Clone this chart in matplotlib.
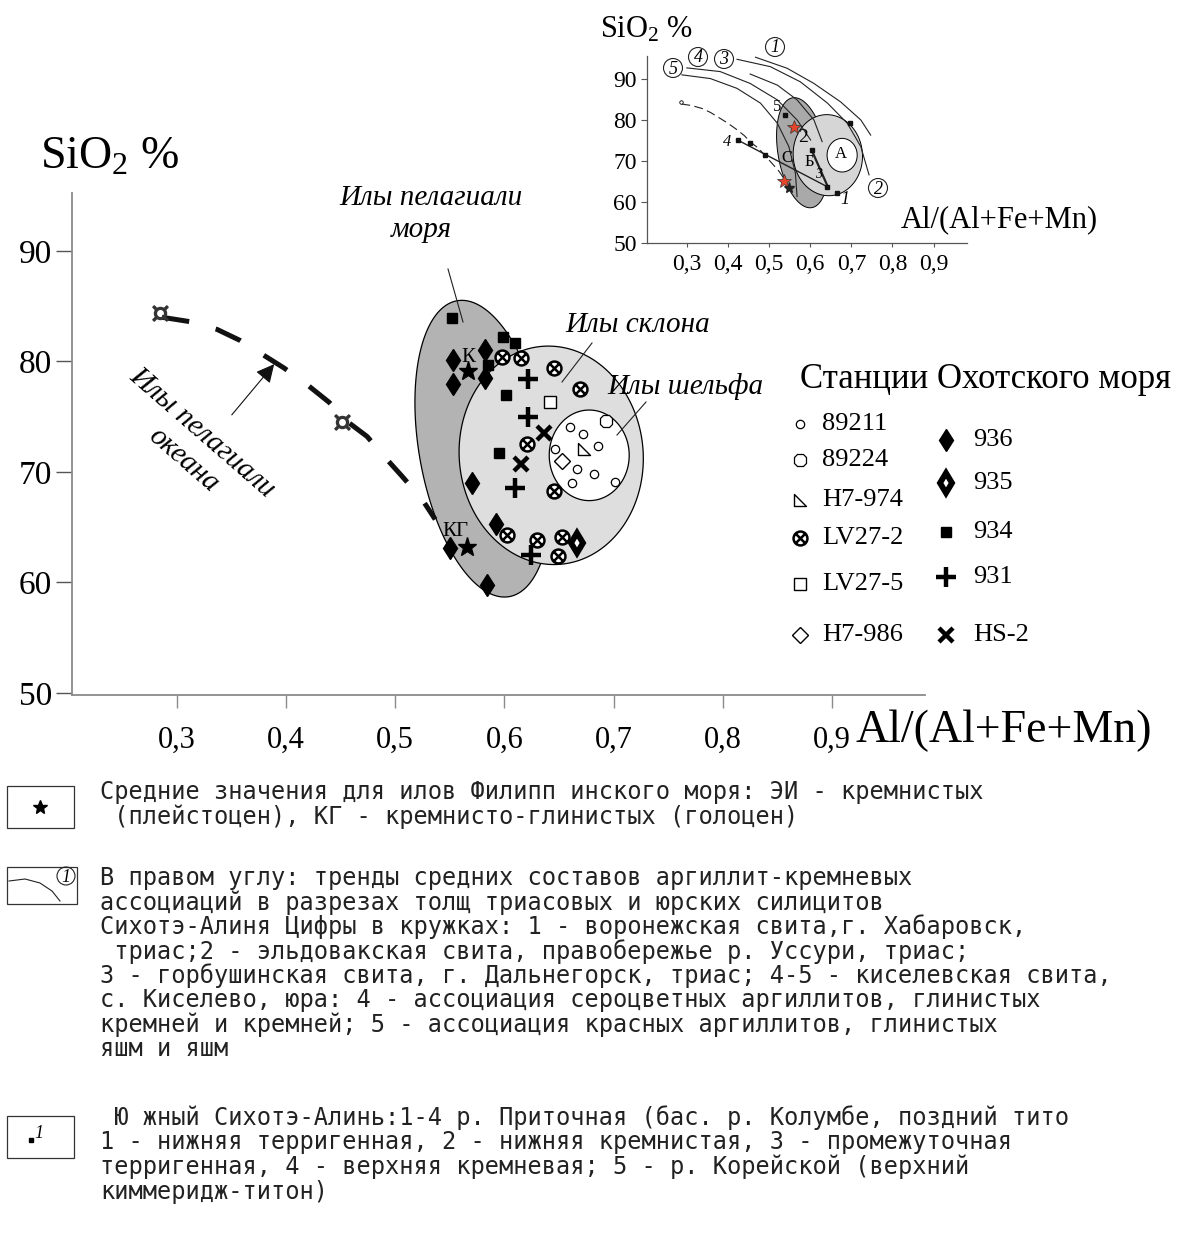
import numpy as np
import matplotlib
matplotlib.use('Agg')
import matplotlib.pyplot as plt
from matplotlib.patches import Polygon, Rectangle, Ellipse
from matplotlib.path import Path

plt.rcParams['mathtext.fontset'] = 'custom'
plt.rcParams['mathtext.rm'] = 'Liberation Serif'
plt.rcParams['mathtext.it'] = 'Liberation Serif:italic'

SERIF = 'Liberation Serif'
MONO = 'DejaVu Sans Mono'
W, H = 1189, 1238

# ---------------- data: main diagram (x = Al/(Al+Fe+Mn), y = SiO2 %)
st_89211_x = [0.660, 0.672, 0.646, 0.686, 0.666, 0.682, 0.662, 0.701]
st_89211_y = [74.1, 73.4, 72.1, 72.3, 70.3, 69.8, 69.0, 69.1]
st_89224_x = [0.693]
st_89224_y = [74.6]
st_h7974_x = [0.673]
st_h7974_y = [72.1]
st_lv272_x = [0.598, 0.615, 0.645, 0.669, 0.621, 0.645, 0.602, 0.630, 0.653, 0.649]
st_lv272_y = [80.4, 80.3, 79.4, 77.5, 72.5, 68.3, 64.3, 63.8, 64.1, 62.4]
st_lv275_x = [0.642]
st_lv275_y = [76.3]
st_h7986_x = [0.653]
st_h7986_y = [71.0]
st_936_x = [0.553, 0.582, 0.553, 0.582, 0.570, 0.592, 0.550, 0.584]
st_936_y = [80.1, 81.0, 78.0, 78.5, 69.0, 65.3, 63.1, 59.8]
st_935_x = [0.666]
st_935_y = [63.6]
st_934_x = [0.552, 0.599, 0.610, 0.585, 0.601, 0.595]
st_934_y = [83.9, 82.2, 81.7, 79.7, 77.0, 71.7]
st_931_x = [0.622, 0.622, 0.610, 0.624]
st_931_y = [78.4, 75.0, 68.5, 62.5]
st_hs2_x = [0.636, 0.615]
st_hs2_y = [73.5, 70.7]

# Philippine sea averages (stars)
phil_x = [0.567, 0.566]
phil_y = [79.1, 63.2]

# pelagic ocean trend (dashed) and its end samples
ocean_x = [0.2865, 0.3122, 0.3369, 0.3580, 0.3790, 0.3983, 0.4193, 0.4395,
           0.4569, 0.4743, 0.4908, 0.5063, 0.5247, 0.5366]
ocean_y = [84.0, 83.6, 82.9, 81.9, 80.6, 79.4, 77.9, 76.3,
           74.5, 73.2, 71.3, 69.6, 67.5, 65.7]
ocean_pts_x = [0.285, 0.451]
ocean_pts_y = [84.4, 74.5]

# fields: centre x, centre y, half width (x units), half height (y units), tilt
field_cx = [0.5805, 0.6428, 0.6776]
field_cy = [72.1, 71.5, 71.5]
field_hw = [0.0586, 0.0842, 0.0366]
field_hh = [13.6, 9.9, 4.1]
field_tilt = [10, 5, 0]

# ---------------- data: inset (trends of Sikhote-Alin sections)
trend1_x = [0.467, 0.544, 0.609, 0.674, 0.723, 0.747]
trend1_y = [95.4, 92.7, 89.0, 84.5, 80.1, 76.4]
trend2_x = [0.422, 0.503, 0.576, 0.642, 0.690, 0.723, 0.743]
trend2_y = [94.9, 93.1, 89.4, 84.2, 79.3, 73.6, 66.7]
trend3_x = [0.454, 0.520, 0.568, 0.609, 0.629]
trend3_y = [91.3, 88.6, 85.0, 80.1, 74.8]
trend4_x = [0.300, 0.381, 0.454, 0.520, 0.568, 0.601]
trend4_y = [92.8, 91.9, 89.0, 85.0, 80.1, 75.2]
trend5_x = [0.288, 0.357, 0.422, 0.479, 0.520, 0.548, 0.564, 0.568]
trend5_y = [91.1, 90.2, 87.8, 84.2, 79.3, 73.6, 67.1, 61.4]
south_x = [0.4235, 0.4527, 0.4910, 0.5398, 0.6032, 0.6415, 0.6659, 0.6966]
south_y = [75.2, 74.5, 71.5, 81.3, 72.8, 63.8, 62.3, 79.3]
sec4_x = [0.4235, 0.6415]
sec4_y = [75.2, 63.8]
sec3_x = [0.6032, 0.6415]
sec3_y = [72.8, 64.1]
red_star_x = [0.560, 0.537]
red_star_y = [78.4, 65.3]
blk_star_x = [0.548]
blk_star_y = [63.4]

x_ticks = [0.3, 0.4, 0.5, 0.6, 0.7, 0.8, 0.9]
x_tick_labels = ['0,3', '0,4', '0,5', '0,6', '0,7', '0,8', '0,9']
y_ticks = [50, 60, 70, 80, 90]

# ---------------- marker styles
tri = Path([(-1, 1), (-1, -1), (1, -1), (-1, 1)],
           [Path.MOVETO, Path.LINETO, Path.LINETO, Path.CLOSEPOLY])
otimes = Path.make_compound_path(
    Path.unit_circle(),
    Path([(-0.6, -0.6), (0.6, 0.6), (-0.6, 0.6), (0.6, -0.6)],
         [Path.MOVETO, Path.LINETO, Path.MOVETO, Path.LINETO]))
open_kw = dict(mfc='white', mec='k')
styles = {
    '89211': dict(marker='o', ms=6, mew=0.9, **open_kw),
    '89224': dict(marker='8', ms=9.5, mew=0.9, **open_kw),
    'H7-974': dict(marker=tri, ms=9, mew=1.0, **open_kw),
    'LV27-2': dict(marker=otimes, ms=10, mew=1.8, **open_kw),
    'LV27-5': dict(marker='s', ms=8, mew=1.0, **open_kw),
    'H7-986': dict(marker='D', ms=8.5, mew=1.0, **open_kw),
    '936': dict(marker='d', ms=11.5, color='k'),
    '935': dict(marker='d', ms=10, mfc='white', mec='k', mew=4.2),
    '934': dict(marker='s', ms=7.5, color='k'),
    '931': dict(marker='+', ms=14, mew=3.2, color='k'),
    'HS-2': dict(marker='x', ms=9.5, mew=3.2, color='k'),
}
stations = [('89211', st_89211_x, st_89211_y), ('89224', st_89224_x, st_89224_y),
            ('H7-974', st_h7974_x, st_h7974_y), ('LV27-2', st_lv272_x, st_lv272_y),
            ('LV27-5', st_lv275_x, st_lv275_y), ('H7-986', st_h7986_x, st_h7986_y),
            ('936', st_936_x, st_936_y), ('935', st_935_x, st_935_y),
            ('934', st_934_x, st_934_y), ('931', st_931_x, st_931_y),
            ('HS-2', st_hs2_x, st_hs2_y)]


def ellipse_poly(a, cx, cy, hw, hh, tilt, n=240):
    # ellipse drawn in screen space so the tilt looks right on unequal scales
    t = np.linspace(0, 2 * np.pi, n)
    c = a.transData.transform((cx, cy))
    rx, ry = a.transData.transform((cx + hw, cy + hh)) - c
    u, v = rx * np.cos(t), ry * np.sin(t)
    r = np.deg2rad(tilt)
    pts = np.column_stack([c[0] + u * np.cos(r) - v * np.sin(r),
                           c[1] + u * np.sin(r) + v * np.cos(r)])
    return a.transData.inverted().transform(pts)


def draw_fields(a, colors, lw):
    for i in range(3):
        a.add_patch(Polygon(ellipse_poly(a, field_cx[i], field_cy[i], field_hw[i],
                                         field_hh[i], field_tilt[i]),
                            closed=True, fc=colors[i], ec='k', lw=lw, zorder=1 + i))


def style_axes(a, col='#8a8a8a'):
    for s in ['top', 'right']:
        a.spines[s].set_visible(False)
    for s in ['left', 'bottom']:
        a.spines[s].set_color(col)
    a.set_facecolor('none')


fig = plt.figure(figsize=(W / 100, H / 100), dpi=100)

# ---------------- main diagram
ax = fig.add_axes([72 / W, 1 - 695 / H, (925 - 72) / W, (695 - 193) / H])
ax.set_xlim(0.2041, 0.985)
ax.set_ylim(49.8, 95.25)
style_axes(ax)
for s in ['left', 'bottom']:
    ax.spines[s].set_linewidth(1.3)
ax.set_xticks(x_ticks)
ax.set_xticklabels(x_tick_labels, fontfamily=SERIF, fontsize=22)
ax.set_yticks(y_ticks)
ax.set_yticklabels([str(v) for v in y_ticks], fontfamily=SERIF, fontsize=24)
ax.tick_params(axis='x', direction='out', length=9.5, width=1, color='#8a8a8a', pad=13)
ax.tick_params(axis='y', direction='out', length=11.5, width=1, color='#555555', pad=3)

draw_fields(ax, ['#b3b3b3', '#dedede', 'white'], 0.9)
ax.plot(ocean_x, ocean_y, color='#111111', lw=3.6, dashes=(5.5, 5.5),
        solid_capstyle='butt', dash_capstyle='butt', zorder=4)
ax.plot(ocean_pts_x, ocean_pts_y, ls='none', marker='$\u2698$', ms=11, color='#333333', zorder=5)
for name, xs, ys in stations:
    ax.plot(xs, ys, ls='none', zorder=6, **styles[name])
ax.plot(phil_x, phil_y, ls='none', marker='*', ms=14, color='k', zorder=7)

# ---------------- inset
axi = fig.add_axes([646.7 / W, 1 - 243.3 / H, 320 / W, 187.3 / H])
axi.set_xlim(0.2024, 0.9805)
axi.set_ylim(50, 95.7)
style_axes(axi, '#555555')
for s in ['left', 'bottom']:
    axi.spines[s].set_linewidth(0.9)
axi.set_xticks(x_ticks)
axi.set_xticklabels(x_tick_labels, fontfamily=SERIF, fontsize=17)
axi.set_yticks(y_ticks)
axi.set_yticklabels([str(v) for v in y_ticks], fontfamily=SERIF, fontsize=17)
axi.tick_params(axis='x', direction='out', length=3, width=0.8, color='#555555', pad=5)
axi.tick_params(axis='y', direction='out', length=4, width=0.8, color='#555555', pad=3)
draw_fields(axi, ['#a9a9a9', '#d6d6d6', 'white'], 0.7)
for tx, ty in [(trend1_x, trend1_y), (trend2_x, trend2_y), (trend3_x, trend3_y),
               (trend4_x, trend4_y), (trend5_x, trend5_y)]:
    axi.plot(tx, ty, color='#222222', lw=0.8, zorder=4)
axi.plot(ocean_x, ocean_y, color='#222222', lw=0.8, dashes=(8, 4), zorder=4)
axi.plot(ocean_pts_x[:1], ocean_pts_y[:1], ls='none', marker='o', ms=2.5,
         mfc='white', mec='k', mew=0.6, zorder=5)
axi.plot(sec4_x, sec4_y, color='#222222', lw=1.0, zorder=5)
axi.plot(sec3_x, sec3_y, color='#222222', lw=1.6, zorder=5)
axi.plot(south_x, south_y, ls='none', marker='s', ms=3.2, color='#111111', zorder=6)
axi.plot(red_star_x, red_star_y, ls='none', marker='*', ms=10, mfc='#e2452b', mec='#333333',
         mew=0.5, zorder=7)
axi.plot(blk_star_x, blk_star_y, ls='none', marker='*', ms=8, color='#222222', zorder=7)

# ---------------- overlay in pixel coordinates for labels, legends and notes
ov = fig.add_axes([0, 0, 1, 1], zorder=10)
ov.set_xlim(0, W)
ov.set_ylim(H, 0)
ov.axis('off')

ov.text(110, 157, 'SiO$_2$ %', fontfamily=SERIF, fontsize=33, ha='center', va='center')
ov.text(855, 731, 'Al/(Al+Fe+Mn)', fontfamily=SERIF, fontsize=33, ha='left', va='center')

ital = dict(fontfamily=SERIF, style='italic', fontsize=21)
ov.text(431, 198, 'Илы пелагиали', ha='center', va='center', **ital)
ov.text(421, 230, 'моря', ha='center', va='center', **ital)
ov.text(565, 325, 'Илы склона', ha='left', va='center', **ital)
ov.text(607, 387, 'Илы шельфа', ha='left', va='center', **ital)
ov.text(202, 433, 'Илы пелагиали', ha='center', va='center', rotation=-41,
        rotation_mode='anchor', **ital)
ov.text(183, 460, 'океана', ha='center', va='center', rotation=-41,
        rotation_mode='anchor', **ital)
for (x0, y0), (x1, y1) in [((448, 269), (463, 322)), ((592, 343), (562, 382)),
                           ((646, 402), (617, 435))]:
    ov.plot([x0, x1], [y0, y1], color='#222222', lw=0.8)
ov.annotate('', xy=(276, 362), xytext=(230, 417),
            arrowprops=dict(arrowstyle='-|>', color='#111111', lw=0.8, mutation_scale=28))
ov.text(468, 358, 'К', fontfamily=SERIF, fontsize=15, ha='center', va='center')
ov.text(455, 532, 'КГ', fontfamily=SERIF, fontsize=15, ha='center', va='center')

# inset labels
ov.text(600, 30, 'SiO$_2$ %', fontfamily=SERIF, fontsize=22, ha='left', va='center')
ov.text(1098, 220, 'Al/(Al+Fe+Mn)', fontfamily=SERIF, fontsize=22, ha='right', va='center')
for (px, py, s, st, fs) in [(777, 107, '5', 'normal', 12), (727, 142, '4', 'italic', 12),
                            (803, 138, '2', 'normal', 14), (787, 158, 'С', 'normal', 12),
                            (809, 162, 'Б', 'normal', 12), (841, 154, 'А', 'normal', 12),
                            (845, 200, '1', 'italic', 13), (819, 175, '3', 'italic', 10)]:
    ov.text(px, py, s, fontfamily=SERIF, style=st, fontsize=fs, ha='center', va='center')
for (px, py, s) in [(775, 47, '1'), (698, 57, '4'), (724, 59, '3'), (673, 68, '5'), (878, 188, '2')]:
    ov.add_patch(Ellipse((px, py), 19, 19, fill=False, ec='#222222', lw=0.8))
    ov.text(px, py + 1, s, fontfamily=SERIF, style='italic', fontsize=13, ha='center', va='center')

# station legend
ov.text(800, 380, 'Станции Охотского моря', fontfamily=SERIF, fontsize=25, ha='left', va='center')
col1 = [('89211', 424), ('89224', 460), ('H7-974', 500), ('LV27-2', 538), ('LV27-5', 584),
        ('H7-986', 635)]
col2 = [('936', 440), ('935', 483), ('934', 532), ('931', 577), ('HS-2', 635)]
for items, mx, tx in [(col1, 800, 822), (col2, 946, 973)]:
    for name, py in items:
        ov.plot([mx], [py], ls='none', **styles[name])
        ov.text(tx, py, name, fontfamily=SERIF, fontsize=19, ha='left', va='center')

# notes at the bottom
note1 = ['Средние значения для илов Филипп инского моря: ЭИ - кремнистых',
         ' (плейстоцен), КГ - кремнисто-глинистых (голоцен)']
note2 = ['В правом углу: тренды средних составов аргиллит-кремневых',
         'ассоциаций в разрезах толщ триасовых и юрских силицитов',
         'Сихотэ-Алиня Цифры в кружках: 1 - воронежская свита,г. Хабаровск,',
         ' триас;2 - эльдовакская свита, правобережье р. Уссури, триас;',
         '3 - горбушинская свита, г. Дальнегорск, триас; 4-5 - киселевская свита,',
         'с. Киселево, юра: 4 - ассоциация сероцветных аргиллитов, глинистых',
         'кремней и кремней; 5 - ассоциация красных аргиллитов, глинистых',
         'яшм и яшм']
note3 = [' Ю жный Сихотэ-Алинь:1-4 р. Приточная (бас. р. Колумбе, поздний тито',
         '1 - нижняя терригенная, 2 - нижняя кремнистая, 3 - промежуточная',
         'терригенная, 4 - верхняя кремневая; 5 - р. Корейской (верхний',
         'киммеридж-титон)']
line_h = 24.5
for lines, y0 in [(note1, 792), (note2, 878), (note3, 1118)]:
    for k, s in enumerate(lines):
        ov.text(100, y0 + k * line_h, s, fontfamily=MONO, fontsize=17, ha='left',
                va='center', color='#222222')

ov.add_patch(Rectangle((7, 786), 67, 42, fill=False, ec='#333333', lw=0.9))
ov.plot([40], [807], ls='none', marker='*', ms=10, color='k')
ov.add_patch(Rectangle((7, 867), 70, 37, fill=False, ec='#333333', lw=0.9))
ov.plot([9, 25, 40, 52, 60], [881, 879, 883, 891, 901], color='#222222', lw=0.8)
ov.add_patch(Ellipse((66, 876), 18, 18, fill=False, ec='#222222', lw=0.8))
ov.text(66, 877, '1', fontfamily=SERIF, style='italic', fontsize=13, ha='center', va='center')
ov.add_patch(Rectangle((7, 1116), 67, 42, fill=False, ec='#333333', lw=0.9))
ov.plot([31], [1140], ls='none', marker='s', ms=3.5, color='k')
ov.text(39, 1134, '1', fontfamily=SERIF, style='italic', fontsize=13, ha='center', va='center')

fig.savefig('out.png', dpi=100)
